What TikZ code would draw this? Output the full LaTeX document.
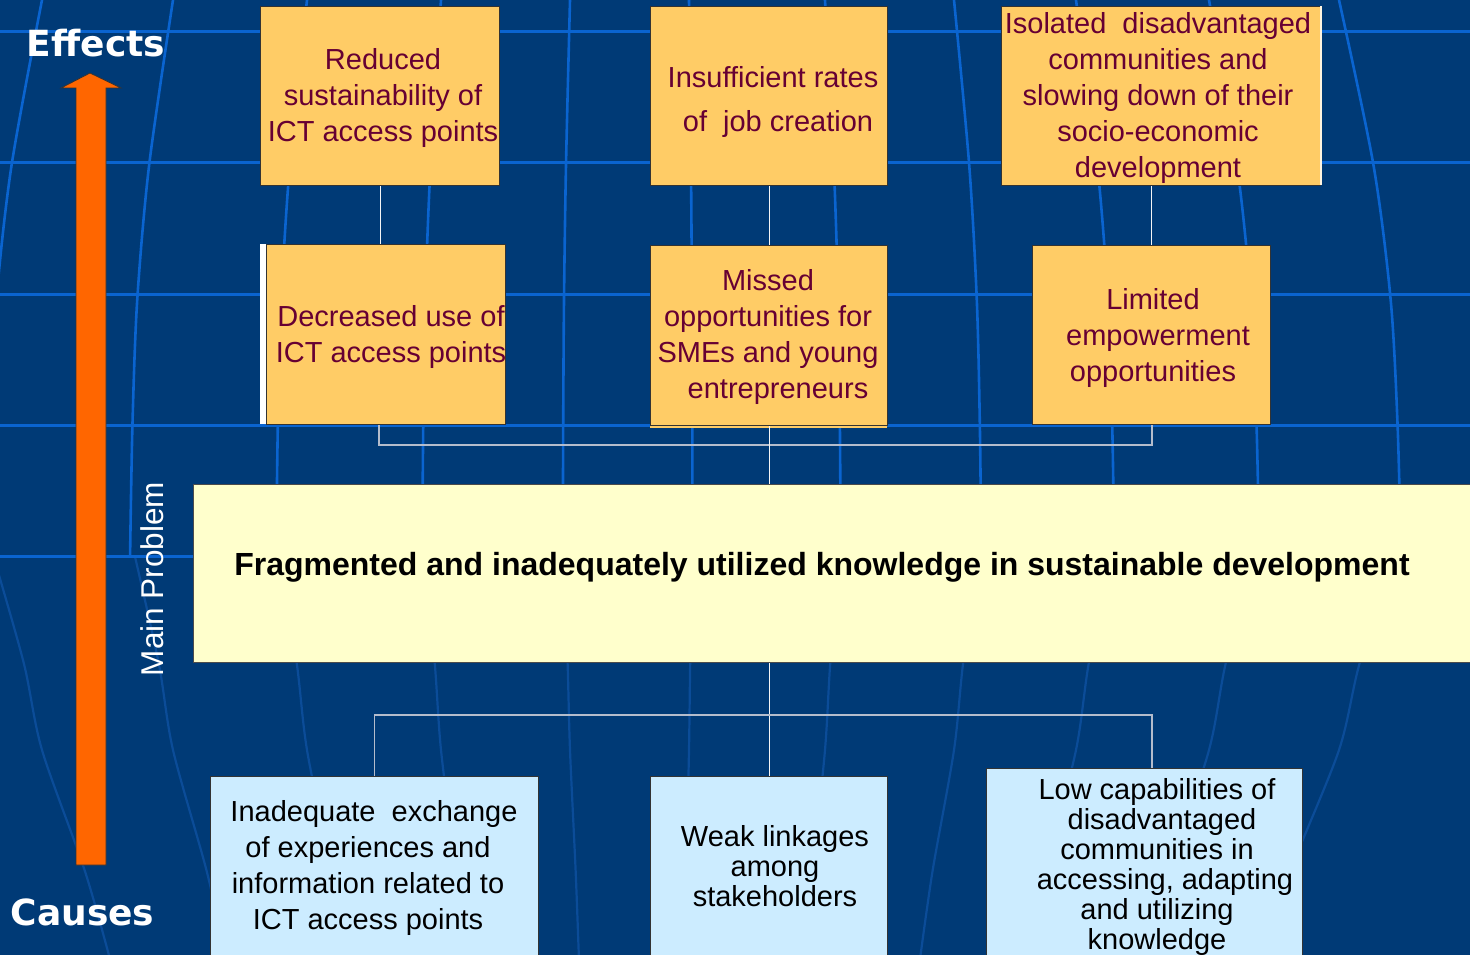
\documentclass[tikz,border=0pt]{standalone}
\usepackage{fontspec}
\setmainfont{Liberation Sans}
\newfontfamily\vfont{DejaVu Sans}
\definecolor{bgblue}{HTML}{003A76}
\definecolor{gridbright}{HTML}{0A64D0}
\definecolor{gridfaint}{HTML}{0B4C98}
\definecolor{boxorange}{HTML}{FFCC66}
\definecolor{boxyellow}{HTML}{FFFFCC}
\definecolor{boxblue}{HTML}{CCECFF}
\definecolor{textmaroon}{HTML}{660033}
\definecolor{arroworange}{HTML}{FF6600}
\definecolor{bracketgray}{HTML}{B4BCCC}
\begin{document}
\begin{tikzpicture}[x=1pt,y=-1pt,
  obox/.style={draw=black!80, line width=1pt, fill=boxorange, inner sep=0pt, anchor=north west},
  ybox/.style={draw=black!70, line width=1pt, fill=boxyellow, inner sep=0pt, anchor=north west},
  bbox/.style={draw=black!80, line width=1pt, fill=boxblue, inner sep=0pt, anchor=north west},
  otext/.style={text=textmaroon, align=center, font=\fontsize{29}{36}\selectfont, inner sep=0pt},
  btext/.style={text=black, align=center, font=\fontsize{29}{30}\selectfont, inner sep=0pt},
  conn/.style={draw=white!92!gray, line width=1pt},
  bracket/.style={draw=bracketgray, line width=2pt},
  hgrid/.style={draw=gridbright, line width=3pt},
  merid/.style={draw=gridbright, line width=2.6pt},
  meridf/.style={draw=gridfaint, line width=2.2pt},
  sidelbl/.style={text=white, inner sep=0pt, anchor=base}]
\useasboundingbox (0,0) rectangle (1470,955);
\clip (0,0) rectangle (1470,955);
% background globe
\fill[bgblue] (0,0) rectangle (1470,955);
\foreach \xo in {42,173,307,441,570,689,825,954,1076,1209,1339}{
  \draw[merid] plot[smooth] coordinates {({650+(\xo-650)*1.0},0) ({650+(\xo-650)*1.05},165) ({650+(\xo-650)*1.075},300) ({650+(\xo-650)*1.085},425) ({650+(\xo-650)*1.09},556)};
  \draw[meridf] plot[smooth] coordinates {({650+(\xo-650)*1.08},556) ({650+(\xo-650)*1.03},663) ({650+(\xo-650)*1.0},750) ({650+(\xo-650)*0.93},870) ({650+(\xo-650)*0.89},955)};
}
\foreach \yy in {32,163,294,425,556} \draw[hgrid] (0,\yy) -- (1470,\yy);
% side arrow and labels
\filldraw[fill=arroworange, draw=black!80, line width=0.8pt] (76,865) -- (76,88) -- (61,88) -- (90,73) -- (121,88) -- (106,88) -- (106,865) -- cycle;
\node[sidelbl, font=\vfont\bfseries\fontsize{36}{40}\selectfont] (effects) at (96,57) {Effects};
\node[sidelbl, font=\vfont\bfseries\fontsize{36}{40}\selectfont] (causes) at (82.5,925) {Causes};
\node[sidelbl, font=\fontsize{31.5}{36}\selectfont, rotate=90] (mainlbl) at (163.5,579) {Main Problem};
% effect boxes, top row
\node[obox, minimum width=239pt, minimum height=179pt] (A) at (260,6) {};
\node[obox, minimum width=237pt, minimum height=179pt] (B) at (650,6) {};
\node[obox, minimum width=319pt, minimum height=179pt] (C) at (1001,6) {};
\draw[white!80!boxorange, line width=1.5pt] (1321,6) -- (1321,185);
% second row
\fill[white] (260,244) rectangle (266,424);
\node[obox, minimum width=239pt, minimum height=180pt] (D) at (266,244) {};
\fill[boxorange] (650,425) rectangle (887,428);
\node[obox, minimum width=237pt, minimum height=180pt] (E) at (650,245) {};
\node[obox, minimum width=238pt, minimum height=179pt] (F) at (1032,245) {};
% main problem
\node[ybox, minimum width=1290pt, minimum height=178pt] (M) at (193,484) {};
% cause boxes
\node[bbox, minimum width=328pt, minimum height=200pt] (G) at (210,776) {};
\node[bbox, minimum width=237pt, minimum height=200pt] (H) at (650,776) {};
\node[bbox, minimum width=316pt, minimum height=210pt] (I) at (986,768) {};
% texts
\node[otext] (At) at (383,98) {Reduced\\ sustainability of\\ ICT access points};
\node[otext, font=\fontsize{29}{44}\selectfont] (Bt) at (773,102) {Insufficient rates\\ \hspace*{10pt}of\ \ job creation};
\node[otext] (Ct) at (1158,98) {Isolated\ \ disadvantaged\\ communities and\\ slowing down of their\\ socio-economic\\ development};
\node[otext] (Dt) at (391,337) {Decreased use of\\ ICT access points};
\node[otext] (Et) at (768,337) {Missed\\ opportunities for\\ SMEs and young\hspace*{30pt}\\ \hspace*{20pt}entrepreneurs};
\node[otext] (Ft) at (1153,338) {Limited\\ \hspace*{10pt}empowerment\\ opportunities};
\node[font=\bfseries\fontsize{32}{38}\selectfont, text=black, inner sep=0pt] (Mt) at (822,567) {Fragmented and inadequately utilized knowledge in sustainable development};
\node[otext, text=black] (Gt) at (368,868) {\hspace*{12pt}Inadequate\ \ exchange\\ of experiences and\\ information related to\\ ICT access points};
\node[btext] (Ht) at (775,866) {Weak linkages\\ among\\ stakeholders};
\node[btext] (It) at (1157,867) {Low capabilities of\\ \hspace*{10pt}disadvantaged\\ communities in\hspace*{18pt}\\ \hspace*{16pt}accessing, adapting\\ and utilizing\hspace*{4pt}\\ knowledge};
% connectors
\draw[conn] (A.south) -- (A.south |- D.north);
\draw[conn] (B.south) -- (E.north);
\draw[conn] (F.north |- C.south) -- (F.north);
\coordinate (brT) at (379,445);
\draw[bracket] (brT |- D.south) -- (brT) -| (F.south);
\draw[conn] (E.south) -- (E.south |- M.north);
\coordinate (brB) at (1152,715);
\draw[conn] (H.north |- M.south) -- (H.north);
\draw[bracket, line width=1.5pt] (G.north) -- (G.north |- brB) -- (brB) -- (brB |- I.north);
\end{tikzpicture}
\end{document}
